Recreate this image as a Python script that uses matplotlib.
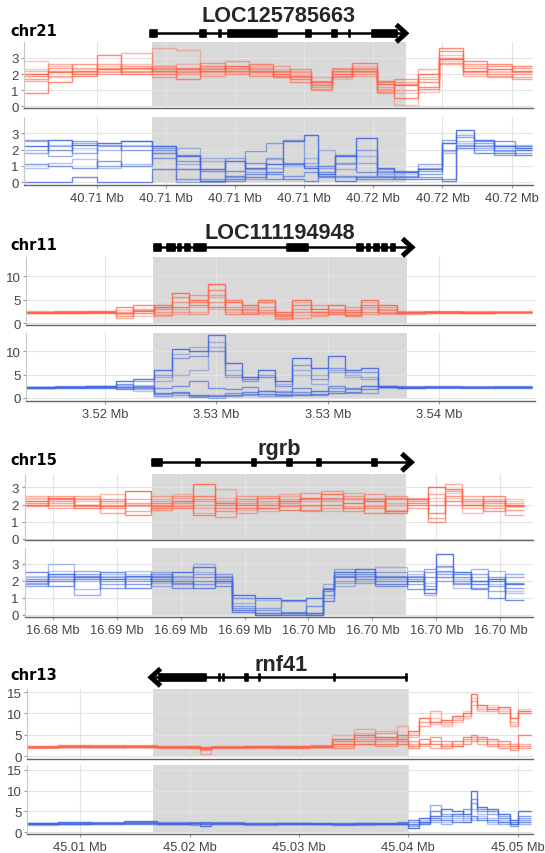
import matplotlib
matplotlib.use("Agg")
import matplotlib.pyplot as plt
from matplotlib.patches import Rectangle
from matplotlib.lines import Line2D

W, H = 545, 854
RED = "#ff6347"
BLUE = "#4169e1"
ALPHAS = [0.9, 0.55, 0.4, 0.75, 0.5, 0.65, 0.35, 0.6]

# ---------------- chr21 / LOC125785663 (x in kb from 40.700 Mb)
chr21_xlim = (5.9, 20.62)
chr21_ticks = [8, 10, 12, 14, 16, 18, 20]
chr21_ticklabels = ["40.71 Mb"] * 4 + ["40.72 Mb"] * 3
chr21_shade = (9.59, 16.94)
chr21_gene_line = (9.59, 16.94)
chr21_exons = [(9.55, 9.75), (10.98, 11.15), (11.55, 11.6), (11.8, 13.23),
               (14.05, 14.2), (14.8, 14.95), (15.29, 15.33), (15.96, 16.7)]
chr21_red_edges = [5.9, 6.6, 7.3, 8.0, 8.7, 9.6, 10.3, 11.0, 11.7, 12.4, 13.1, 13.6,
                   14.2, 14.8, 15.4, 16.1, 16.6, 17.3, 17.9, 18.6, 19.3, 20.0, 20.58]
chr21_red = [
    [2.0, 2.1, 2.2, 2.3, 2.4, 2.2, 2.3, 2.2, 2.5, 2.2, 2.0, 1.9, 1.5, 2.0, 2.2, 1.4, 1.3, 2.0, 2.9, 2.2, 2.3, 2.2],
    [1.6, 1.9, 2.1, 2.6, 2.2, 2.3, 2.0, 2.4, 2.8, 2.3, 2.1, 1.8, 1.2, 1.9, 2.4, 1.0, 1.5, 1.7, 2.7, 2.1, 2.0, 1.8],
    [2.8, 2.5, 2.0, 2.2, 2.6, 3.6, 3.5, 2.1, 2.1, 2.0, 2.2, 2.0, 1.8, 2.1, 1.9, 0.8, 0.1, 0.9, 3.2, 2.5, 2.1, 2.4],
    [0.8, 1.5, 1.9, 3.2, 2.0, 2.0, 1.7, 2.5, 2.2, 2.6, 1.8, 1.7, 1.3, 2.2, 2.7, 1.6, 0.5, 1.2, 3.6, 2.8, 2.6, 2.5],
    [2.2, 2.6, 2.4, 2.0, 3.3, 1.8, 2.2, 1.9, 2.3, 2.4, 2.5, 2.1, 1.1, 2.4, 2.1, 1.2, 1.0, 2.3, 2.6, 1.9, 1.8, 2.0],
    [1.9, 2.2, 2.6, 2.4, 2.1, 2.5, 2.4, 2.3, 2.0, 2.1, 1.9, 1.5, 1.6, 1.8, 2.3, 0.9, 1.7, 1.5, 3.0, 2.4, 2.5, 2.1],
    [2.3, 1.8, 2.3, 2.5, 2.3, 2.1, 2.6, 2.0, 2.2, 2.5, 2.3, 2.2, 1.4, 1.7, 2.5, 1.1, 0.8, 1.8, 2.8, 2.0, 2.2, 2.4],
    [1.7, 2.4, 2.0, 2.1, 2.5, 2.4, 2.1, 2.7, 2.4, 1.9, 2.2, 2.3, 1.0, 2.3, 2.0, 1.5, 1.4, 1.1, 3.4, 2.6, 1.9, 1.7],
]
chr21_blue_edges = [5.9, 6.6, 7.3, 8.0, 8.7, 9.6, 10.3, 11.0, 11.7, 12.3, 12.9, 13.4, 14.0,
                    14.4, 14.9, 15.5, 16.1, 16.6, 17.3, 18.0, 18.4, 18.9, 19.5, 20.1, 20.58]
chr21_blue = [
    [2.2, 2.6, 2.3, 2.4, 2.5, 2.2, 1.6, 0.8, 1.3, 0.9, 1.1, 2.5, 2.9, 0.5, 1.6, 2.7, 0.9, 0.6, 0.8, 2.4, 3.2, 2.6, 2.2, 2.1],
    [1.8, 2.2, 1.8, 2.2, 2.0, 2.1, 1.3, 0.2, 0.4, 1.9, 2.4, 2.6, 1.0, 1.0, 1.2, 2.0, 0.4, 0.4, 1.1, 2.0, 2.2, 2.4, 2.0, 1.8],
    [0.9, 1.2, 1.4, 0.9, 1.1, 1.8, 2.1, 1.3, 0.3, 0.2, 0.9, 1.1, 1.2, 2.0, 0.8, 1.2, 0.5, 0.3, 0.5, 1.8, 2.5, 2.0, 2.3, 2.2],
    [0.0, 0.0, 0.3, 0.0, 0.0, 0.8, 0.8, 0.1, 0.2, 0.3, 0.6, 1.1, 0.9, 0.4, 0.1, 0.3, 0.3, 0.2, 0.2, 0.1, 2.1, 1.8, 1.8, 1.7],
    [2.5, 1.6, 2.4, 1.0, 2.5, 1.8, 0.0, 0.0, 1.5, 0.8, 1.5, 1.2, 0.9, 0.9, 0.3, 0.4, 0.8, 0.6, 0.9, 2.4, 2.9, 2.1, 1.9, 2.0],
    [1.1, 1.0, 0.9, 1.3, 1.0, 2.0, 1.7, 0.7, 0.7, 1.2, 0.5, 0.2, 0.1, 0.6, 1.7, 0.6, 0.6, 0.7, 0.3, 0.2, 2.3, 2.2, 2.5, 2.2],
    [2.0, 2.3, 2.1, 2.0, 2.3, 2.2, 1.1, 1.5, 0.4, 0.6, 1.4, 1.0, 1.5, 1.0, 1.1, 1.6, 0.7, 0.5, 0.5, 1.9, 2.4, 2.3, 2.1, 2.3],
    [2.6, 2.0, 2.5, 2.3, 2.2, 1.5, 0.2, 0.1, 0.1, 0.5, 0.2, 0.4, 0.6, 0.3, 0.4, 0.2, 0.2, 0.3, 0.7, 2.6, 2.8, 2.5, 1.7, 2.0],
]

# ---------------- chr11 / LOC111194948 (x in kb from 3.520 Mb)
chr11_xlim = (1.16, 19.44)
chr11_ticks = [4, 8, 12, 16]
chr11_ticklabels = ["3.52 Mb", "3.53 Mb", "3.53 Mb", "3.54 Mb"]
chr11_shade = (5.71, 14.85)
chr11_gene_line = (5.75, 15.02)
chr11_exons = [(5.75, 6.0), (6.24, 6.5), (6.62, 6.74), (6.87, 7.05), (7.18, 7.61),
               (10.54, 10.66), (10.73, 11.29), (13.03, 13.27), (13.4, 13.52),
               (13.65, 13.83), (13.96, 14.14), (14.27, 14.4)]
chr11_edges = [1.16, 2.2, 3.3, 4.4, 5.0, 5.75, 6.4, 7.0, 7.7, 8.3, 8.9, 9.5, 10.1,
               10.7, 11.4, 12.0, 12.6, 13.2, 13.8, 14.5, 15.5, 16.8, 18.0, 19.35]
chr11_red = [
    [2.4, 2.5, 2.4, 2.3, 2.6, 3.5, 6.5, 5.0, 8.3, 4.5, 4.0, 5.0, 2.5, 5.0, 3.0, 3.8, 2.5, 5.0, 4.0, 2.4, 2.5, 2.4, 2.5],
    [2.2, 2.3, 2.5, 1.2, 3.8, 2.5, 4.5, 6.0, 6.0, 3.5, 3.5, 2.8, 1.5, 3.0, 4.0, 2.5, 1.5, 3.5, 2.5, 2.2, 2.3, 2.6, 2.3],
    [2.6, 2.4, 2.3, 2.0, 1.5, 2.0, 3.0, 2.5, 5.5, 2.5, 2.8, 2.0, 1.0, 1.8, 2.0, 3.0, 2.0, 3.0, 3.0, 2.6, 2.2, 2.5, 2.6],
    [2.3, 2.6, 2.7, 3.5, 2.2, 4.0, 3.5, 4.5, 3.5, 5.0, 2.0, 4.5, 2.0, 4.0, 2.5, 2.0, 2.8, 4.0, 2.2, 2.5, 2.6, 2.3, 2.4],
    [2.5, 2.2, 2.4, 2.5, 3.0, 1.8, 2.5, 2.0, 4.5, 3.0, 2.5, 3.5, 1.8, 1.2, 1.5, 2.5, 3.5, 2.0, 3.5, 2.0, 2.4, 2.2, 2.5],
    [2.5, 2.3, 2.2, 1.6, 2.8, 3.0, 5.5, 4.0, 7.0, 2.0, 3.0, 2.5, 1.2, 2.5, 2.5, 2.8, 1.8, 2.5, 2.8, 2.3, 2.5, 2.3, 2.5],
    [2.3, 2.4, 2.6, 2.8, 4.0, 1.5, 2.0, 3.5, 3.0, 2.8, 2.2, 2.2, 1.5, 4.5, 1.8, 2.2, 1.5, 4.5, 2.0, 2.4, 2.2, 2.5, 2.4],
]
chr11_blue = [
    [2.1, 2.2, 2.6, 3.5, 4.0, 6.0, 10.5, 10.0, 13.5, 7.5, 4.5, 6.0, 3.5, 8.5, 6.5, 9.0, 6.0, 6.5, 2.5, 2.2, 2.3, 2.4, 2.2],
    [2.3, 2.0, 2.4, 2.0, 3.5, 5.0, 8.5, 9.0, 10.0, 5.0, 3.5, 5.0, 2.5, 7.0, 4.0, 6.5, 5.5, 5.5, 2.3, 2.4, 2.1, 2.2, 2.5],
    [2.0, 2.4, 2.2, 2.8, 1.5, 3.5, 5.0, 6.0, 12.0, 4.5, 4.0, 4.5, 1.5, 6.0, 3.0, 5.5, 5.0, 4.0, 2.2, 2.3, 2.4, 2.0, 2.3],
    [2.4, 2.3, 2.5, 1.8, 2.2, 1.0, 1.2, 0.5, 0.3, 0.5, 1.2, 0.8, 0.5, 0.5, 0.8, 1.0, 1.2, 1.8, 2.6, 2.1, 2.2, 2.3, 2.1],
    [2.2, 2.1, 2.3, 2.2, 1.8, 0.3, 0.5, 0.2, 0.0, 0.3, 0.5, 0.4, 0.3, 0.8, 1.5, 2.0, 1.0, 1.0, 2.2, 2.5, 2.3, 2.1, 2.4],
    [2.1, 2.5, 2.0, 3.0, 2.5, 2.0, 2.5, 3.5, 2.0, 1.8, 2.2, 1.5, 1.2, 2.0, 1.5, 2.5, 2.0, 2.5, 2.4, 2.0, 2.5, 2.4, 2.2],
    [2.2, 2.3, 2.1, 2.5, 2.8, 4.5, 9.5, 11.0, 11.0, 6.0, 4.0, 4.5, 3.0, 5.0, 5.0, 6.0, 4.5, 4.5, 2.2, 2.3, 2.2, 2.5, 2.3],
    [2.3, 2.2, 2.4, 2.3, 2.0, 0.8, 1.0, 0.3, 0.5, 1.0, 0.8, 1.5, 0.8, 1.2, 0.6, 1.5, 1.8, 2.5, 2.3, 2.2, 2.4, 2.2, 2.3],
]

# ---------------- chr15 / rgrb (x in kb from 16.680 Mb)
chr15_xlim = (1.68, 25.53)
chr15_ticks = [3, 6, 9, 12, 15, 18, 21, 24]
chr15_ticklabels = ["16.68 Mb", "16.69 Mb", "16.69 Mb", "16.69 Mb",
                    "16.70 Mb", "16.70 Mb", "16.70 Mb", "16.70 Mb"]
chr15_shade = (7.65, 19.58)
chr15_gene_line = (7.65, 19.82)
chr15_exons = [(7.65, 8.15), (9.72, 9.92), (12.35, 12.55), (14.01, 14.21),
               (15.39, 15.59), (17.99, 18.19)]
chr15_red_edges = [1.68, 2.8, 4.0, 5.2, 6.4, 7.6, 8.6, 9.6, 10.6, 11.6, 12.6, 13.6,
                   14.6, 15.6, 16.6, 17.6, 18.6, 19.6, 20.6, 21.4, 22.2, 23.2, 24.2, 25.1]
chr15_red = [
    [2.2, 2.4, 2.0, 1.9, 2.8, 1.9, 2.2, 3.2, 2.1, 2.0, 1.8, 2.2, 2.4, 2.6, 2.1, 2.2, 1.6, 2.3, 3.0, 2.9, 2.0, 2.2, 2.0],
    [1.9, 2.1, 2.5, 1.5, 1.6, 2.0, 2.5, 2.0, 1.3, 2.5, 2.2, 2.0, 1.6, 2.8, 2.5, 1.8, 2.5, 1.8, 1.2, 3.2, 2.5, 1.8, 1.4],
    [2.4, 2.0, 2.2, 2.6, 2.0, 2.2, 2.0, 1.8, 2.9, 2.2, 1.6, 2.5, 2.2, 1.8, 2.7, 2.0, 2.1, 2.4, 2.2, 2.4, 1.5, 2.0, 2.3],
    [2.0, 2.3, 1.8, 2.2, 1.4, 1.8, 1.8, 2.5, 2.0, 1.8, 2.4, 1.7, 2.0, 2.0, 1.8, 2.3, 1.5, 2.1, 1.5, 2.2, 2.2, 2.5, 1.9],
    [2.5, 1.8, 2.0, 2.0, 2.3, 2.5, 2.4, 2.2, 2.2, 1.5, 2.0, 2.3, 2.7, 2.2, 1.9, 2.6, 2.0, 2.0, 2.6, 2.0, 1.8, 2.3, 2.1],
    [2.1, 2.2, 2.3, 1.8, 2.0, 2.1, 1.9, 1.4, 1.8, 2.3, 2.0, 1.9, 1.7, 2.3, 2.3, 1.5, 2.3, 2.2, 2.0, 2.5, 2.0, 1.6, 1.9],
    [2.3, 1.9, 2.4, 2.1, 1.9, 2.3, 2.6, 1.5, 2.4, 1.7, 2.1, 2.6, 1.9, 1.6, 2.4, 2.4, 1.7, 2.0, 2.4, 2.7, 2.1, 1.9, 2.2],
    [2.0, 2.5, 1.9, 2.3, 2.1, 1.7, 2.1, 2.3, 1.6, 2.1, 2.5, 2.1, 2.3, 2.4, 1.6, 1.9, 2.4, 2.3, 1.0, 2.8, 2.3, 2.1, 1.7],
]
chr15_blue_edges = [1.68, 2.8, 4.0, 5.2, 6.4, 7.6, 8.6, 9.6, 10.6, 11.4, 12.5, 13.7, 14.9,
                    15.7, 16.2, 17.2, 18.1, 19.6, 20.4, 21.0, 21.8, 22.6, 23.4, 24.2, 25.1]
chr15_blue = [
    [2.0, 2.4, 2.2, 2.1, 2.3, 2.0, 2.5, 2.8, 2.0, 1.2, 1.0, 0.9, 1.0, 1.5, 2.5, 2.7, 2.2, 2.0, 1.5, 3.6, 2.5, 2.0, 2.1, 1.8],
    [1.8, 2.2, 2.6, 1.8, 2.0, 2.3, 1.8, 2.2, 2.4, 0.4, 0.3, 0.2, 0.1, 1.2, 2.0, 2.3, 2.5, 1.8, 2.5, 2.4, 2.0, 2.4, 1.7, 2.2],
    [2.2, 3.0, 1.5, 2.4, 2.6, 1.7, 2.3, 3.0, 1.9, 0.3, 0.1, 0.0, 0.1, 1.8, 1.7, 2.0, 2.8, 2.6, 1.2, 2.8, 1.6, 2.2, 2.6, 1.3],
    [2.5, 2.0, 2.1, 2.5, 1.6, 2.2, 2.0, 1.6, 2.2, 0.2, 0.0, 0.0, 0.0, 0.8, 2.2, 2.5, 1.8, 2.2, 1.3, 2.2, 2.4, 1.8, 2.0, 0.9],
    [1.9, 2.3, 1.2, 2.0, 2.2, 2.5, 2.2, 2.4, 2.1, 0.5, 0.4, 0.8, 0.1, 1.6, 2.7, 1.9, 2.3, 2.3, 1.7, 2.0, 1.9, 2.7, 1.4, 2.4],
    [2.1, 1.7, 2.3, 2.2, 1.8, 2.1, 1.6, 2.0, 1.7, 1.0, 0.1, 0.1, 0.5, 1.4, 2.3, 2.1, 2.0, 1.5, 2.2, 2.6, 2.2, 1.5, 1.0, 1.9],
    [2.3, 2.6, 2.0, 2.3, 2.4, 1.9, 2.1, 2.5, 2.3, 0.7, 0.9, 0.1, 0.0, 1.0, 1.9, 2.2, 2.1, 2.4, 1.9, 2.5, 2.1, 2.0, 1.8, 1.4],
    [1.7, 2.1, 2.4, 1.6, 2.1, 2.4, 1.9, 1.8, 2.0, 0.3, 0.0, 0.1, 0.0, 1.5, 2.4, 2.4, 1.7, 2.1, 2.7, 2.9, 1.8, 1.6, 2.2, 1.6],
]

# ---------------- chr13 / rnf41 (x in kb from 45.000 Mb), reverse strand
chr13_xlim = (5.16, 51.41)
chr13_ticks = [10, 20, 30, 40, 50]
chr13_ticklabels = ["45.01 Mb", "45.02 Mb", "45.03 Mb", "45.04 Mb", "45.05 Mb"]
chr13_shade = (16.7, 40.05)
chr13_gene_line = (16.48, 39.87)
chr13_exons = [(17.2, 21.48), (22.7, 22.8), (23.08, 23.18), (25.05, 25.35),
               (26.35, 26.45), (33.22, 33.32), (39.82, 39.92)]
chr13_edges = [5.16, 8.0, 11.0, 14.0, 17.0, 20.0, 21.0, 22.0, 25.0, 28.0, 31.0, 33.0, 35.0,
               37.0, 39.0, 40.0, 41.0, 42.0, 43.0, 44.0, 45.0, 45.7, 46.3, 47.2, 48.2,
               49.3, 50.0, 51.2]
chr13_red = [
    [2.2, 2.5, 2.3, 2.4, 2.2, 2.3, 2.0, 2.2, 2.3, 2.4, 2.2, 4.0, 5.0, 4.5, 5.0, 6.0, 9.0, 8.0, 8.5, 9.5, 10.0, 14.5, 12.0, 11.0, 11.5, 9.0, 10.5],
    [2.0, 2.1, 2.4, 2.6, 2.1, 2.1, 1.5, 2.0, 2.2, 2.1, 2.6, 3.5, 4.5, 5.5, 4.0, 5.0, 7.0, 10.5, 8.0, 8.5, 9.5, 13.0, 11.0, 10.5, 10.0, 7.0, 10.0],
    [2.4, 2.3, 2.2, 2.5, 2.5, 2.4, 0.5, 2.3, 2.0, 2.5, 2.4, 5.0, 6.5, 4.0, 7.0, 4.5, 8.0, 7.5, 7.0, 8.0, 9.0, 12.0, 10.5, 11.5, 10.5, 8.0, 11.0],
    [2.3, 2.6, 2.1, 2.2, 2.4, 2.0, 1.8, 2.1, 2.4, 2.3, 2.1, 3.0, 3.5, 3.0, 3.5, 2.5, 4.0, 3.0, 2.5, 3.5, 4.5, 5.0, 4.5, 4.0, 3.5, 2.5, 5.0],
    [2.1, 2.2, 2.5, 2.3, 2.0, 2.2, 2.2, 2.4, 2.1, 2.2, 2.3, 2.5, 4.0, 3.5, 3.0, 3.0, 2.5, 2.0, 3.0, 3.0, 3.5, 4.0, 3.0, 3.5, 2.5, 2.0, 3.0],
    [2.5, 2.4, 2.6, 2.1, 2.3, 2.5, 2.0, 2.2, 2.5, 2.0, 2.5, 2.0, 3.0, 2.5, 4.0, 2.0, 3.0, 4.5, 2.0, 2.5, 3.0, 3.5, 4.0, 3.0, 2.0, 1.5, 2.5],
    [2.3, 2.2, 2.4, 2.2, 2.3, 2.1, 1.9, 2.3, 2.2, 2.2, 2.3, 3.5, 5.5, 6.0, 4.5, 5.5, 8.0, 9.0, 7.5, 9.0, 10.5, 13.5, 11.5, 12.0, 11.0, 7.5, 10.0],
    [2.2, 2.3, 2.2, 2.4, 2.2, 2.3, 2.1, 2.2, 2.3, 2.1, 2.2, 2.8, 3.0, 4.0, 3.0, 3.5, 3.0, 3.5, 3.5, 2.5, 4.0, 4.5, 3.5, 2.5, 3.0, 3.0, 2.0],
]
chr13_blue = [
    [2.0, 2.4, 2.2, 2.6, 2.3, 2.2, 1.5, 2.3, 2.0, 2.2, 2.1, 2.0, 2.1, 2.2, 2.0, 1.0, 3.5, 4.0, 5.5, 5.0, 4.5, 10.0, 6.0, 5.5, 4.5, 3.0, 5.0],
    [2.2, 2.0, 2.5, 2.2, 2.0, 2.5, 2.0, 2.1, 2.3, 1.9, 2.2, 1.8, 2.3, 2.0, 2.3, 2.5, 2.0, 6.5, 4.5, 4.0, 4.0, 7.0, 5.0, 4.5, 4.0, 2.5, 3.5],
    [1.8, 2.2, 2.0, 2.0, 2.2, 2.0, 2.3, 2.0, 1.8, 2.3, 1.9, 2.2, 1.8, 2.3, 2.2, 2.0, 3.0, 3.0, 3.5, 3.5, 3.0, 5.5, 4.5, 3.5, 3.0, 1.5, 3.0],
    [2.3, 2.1, 2.3, 2.4, 1.9, 2.3, 2.4, 2.2, 2.1, 2.0, 2.3, 2.1, 2.0, 1.9, 2.4, 3.0, 2.5, 3.5, 3.0, 2.5, 2.5, 4.0, 3.0, 3.0, 2.5, 2.0, 2.5],
    [2.1, 2.3, 1.9, 2.1, 2.4, 1.8, 2.2, 2.4, 2.2, 2.1, 2.0, 2.3, 2.2, 2.1, 1.9, 1.5, 2.0, 2.5, 2.0, 4.5, 3.5, 3.0, 3.5, 2.5, 2.0, 2.5, 2.0],
    [2.2, 2.1, 2.3, 2.2, 2.1, 2.2, 2.0, 2.2, 2.1, 2.2, 2.0, 2.1, 2.2, 2.0, 2.1, 2.0, 2.5, 5.0, 4.0, 4.5, 5.5, 8.0, 5.5, 5.0, 3.5, 2.0, 4.0],
    [2.0, 2.2, 2.1, 2.3, 2.2, 2.1, 2.2, 2.0, 2.2, 2.0, 2.1, 2.0, 2.1, 2.1, 2.0, 1.8, 2.2, 3.0, 2.5, 3.0, 2.5, 3.5, 4.0, 2.0, 2.5, 1.5, 3.0],
]

# layout in pixels: (left, right, name_y, gene_y, red_top, red_bot, blue_top, blue_bot)
panels = [
    dict(chrom="chr21", gene="LOC125785663", strand=1, px=(24, 533, 16, 34.3, 42.7, 109, 118.3, 185.7),
         xlim=chr21_xlim, ticks=chr21_ticks, labels=chr21_ticklabels, shade=chr21_shade,
         line=chr21_gene_line, exons=chr21_exons, red_edges=chr21_red_edges, red=chr21_red,
         blue_edges=chr21_blue_edges, blue=chr21_blue,
         red_ylim=(-0.1, 4.0), blue_ylim=(-0.15, 3.98), yticks=[0, 1, 2, 3]),
    dict(chrom="chr11", gene="LOC111194948", strand=1, px=(26, 535, 233.5, 248.3, 258.3, 326.3, 334, 402.3),
         xlim=chr11_xlim, ticks=chr11_ticks, labels=chr11_ticklabels, shade=chr11_shade,
         line=chr11_gene_line, exons=chr11_exons, red_edges=chr11_edges, red=chr11_red,
         blue_edges=chr11_edges, blue=chr11_blue,
         red_ylim=(-0.4, 14), blue_ylim=(-0.8, 14), yticks=[0, 5, 10]),
    dict(chrom="chr15", gene="rgrb", strand=1, px=(24.5, 533, 450, 463.3, 475, 541, 549, 618),
         xlim=chr15_xlim, ticks=chr15_ticks, labels=chr15_ticklabels, shade=chr15_shade,
         line=chr15_gene_line, exons=chr15_exons, red_edges=chr15_red_edges, red=chr15_red,
         blue_edges=chr15_blue_edges, blue=chr15_blue,
         red_ylim=(-0.06, 3.78), blue_ylim=(-0.12, 3.93), yticks=[0, 1, 2, 3]),
    dict(chrom="chr13", gene="rnf41", strand=-1, px=(27.3, 533, 665.7, 678.3, 690, 760, 766, 835),
         xlim=chr13_xlim, ticks=chr13_ticks, labels=chr13_ticklabels, shade=chr13_shade,
         line=chr13_gene_line, exons=chr13_exons, red_edges=chr13_edges, red=chr13_red,
         blue_edges=chr13_edges, blue=chr13_blue,
         red_ylim=(-0.6, 15.7), blue_ylim=(-0.4, 16.1), yticks=[0, 5, 10, 15]),
]


def px_axes(fig, left, right, top, bottom):
    return fig.add_axes([left / W, 1 - bottom / H, (right - left) / W, (bottom - top) / H])


def style_track(ax, p, ylim, color, traces, edges, show_x):
    ax.set_xlim(*p["xlim"])
    ax.set_ylim(*ylim)
    ax.fill_between(p["shade"], 0, ylim[1], color="#d9d9d9", lw=0, zorder=0)
    for i, vals in enumerate(traces):
        ax.stairs(vals, edges, baseline=None, color=color,
                  alpha=ALPHAS[i % len(ALPHAS)], lw=1.0, zorder=2)
    ax.set_xticks(p["ticks"])
    ax.set_yticks(p["yticks"])
    if show_x:
        ax.set_xticklabels(p["labels"])
    else:
        ax.set_xticklabels([])
    ax.grid(True, color="#e3e3e3", lw=0.8, zorder=1)
    ax.set_axisbelow(True)
    for s in ("top", "right"):
        ax.spines[s].set_visible(False)
    ax.spines["left"].set_color("#c8c8c8")
    ax.spines["bottom"].set_color("#666666")
    ax.spines["bottom"].set_linewidth(1.0)
    ax.tick_params(axis="y", length=2, pad=2, color="#999999", labelcolor="#444444",
                   labelsize=9.5, labelfontfamily="Liberation Sans")
    ax.tick_params(axis="x", length=0 if not show_x else 2, pad=3, color="#999999",
                   labelcolor="#444444", labelsize=9.3, labelfontfamily="Liberation Sans")


def draw_gene(fig, p):
    left, right, name_y, gene_y = p["px"][:4]
    gax = px_axes(fig, left, right, gene_y - 12, gene_y + 12)
    gax.set_xlim(*p["xlim"])
    gax.set_ylim(-1, 1)
    gax.axis("off")
    ppk = (right - left) / (p["xlim"][1] - p["xlim"][0])
    x0, x1 = p["line"]
    gax.plot([x0, x1], [0, 0], color="black", lw=1.8, solid_capstyle="butt")
    for s, e in p["exons"]:
        gax.add_patch(Rectangle((s, -0.3), e - s, 0.6, facecolor="black",
                                edgecolor="black", lw=1.2, joinstyle="round"))
    w = 9.5 / ppk
    tip = x1 if p["strand"] > 0 else x0
    back = tip - p["strand"] * w
    gax.add_line(Line2D([back, tip, back], [0.72, 0, -0.72], color="black", lw=3.6,
                        solid_joinstyle="miter", solid_capstyle="butt"))
    xc = (p["shade"][0] + p["shade"][1]) / 2
    xc_px = left + (xc - p["xlim"][0]) * ppk
    fig.text(xc_px / W, 1 - name_y / H, p["gene"], ha="center", va="center",
             fontsize=15.6, fontweight="bold", family="Liberation Sans", color="#262626")
    fig.text(10 / W, 1 - (gene_y - 3) / H, p["chrom"], ha="left", va="center",
             fontsize=10.5, fontweight="bold", family="DejaVu Sans", color="black")


fig = plt.figure(figsize=(W / 100, H / 100), dpi=100)
for p in panels:
    left, right, name_y, gene_y, rt, rb, bt, bb = p["px"]
    ax_r = px_axes(fig, left, right, rt, rb)
    style_track(ax_r, p, p["red_ylim"], RED, p["red"], p["red_edges"], False)
    ax_b = px_axes(fig, left, right, bt, bb)
    style_track(ax_b, p, p["blue_ylim"], BLUE, p["blue"], p["blue_edges"], True)
    draw_gene(fig, p)

fig.savefig("out.png", dpi=100)
